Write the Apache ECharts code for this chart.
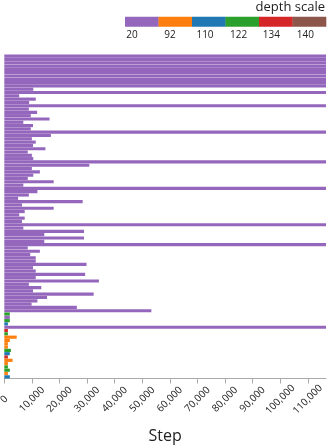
<!DOCTYPE html>
<html>
<head>
<meta charset="utf-8">
<script src="https://cdn.jsdelivr.net/npm/echarts@6/dist/echarts.min.js"></script>
<style>html,body{margin:0;padding:0;background:#fff}#c{width:327px;height:448px}</style>
</head>
<body>
<div id="c"></div>
<script>
// ---- data ----
const FULL = 116600;
const steps = [
  FULL, FULL, FULL, FULL, FULL, FULL, FULL, FULL, FULL, FULL,
  10500, FULL, 5400, 11400, 9000, FULL, 8900, 11900, 9600, 16400,
  6900, 10400, 9600, FULL, 16900, 10000, 11400, 10400, 14900, 8500,
  10000, 10500, FULL, 30800, 10000, 12900, 10500, 8500, 17900, 6900,
  FULL, 12000, 8900, 5000, 28400, 6400, 17900, 7400, 5400, 7400,
  6400, FULL, 6900, 28900, 14500, 28900, 14500, FULL, 8500, 12900,
  9400, 11400, 11400, 29800, 10400, 11400, 29300, 11400, 34300, 8900,
  13400, 10400, 32400, 15500, 12000, 9900, 26300, 53300, 2000, 2000,
  2000, 1300, FULL, 1300, 1300, 4500, 2000, 1300, 1300, 2400,
  2000, 1300, 3000, 1300, 1300, 2000, 1300, 2000
];
const depths = [
  20,20,20,20,20,20,20,20,20,20,
  20,20,20,20,20,20,20,20,20,20,
  20,20,20,20,20,20,20,20,20,20,
  20,20,20,20,20,20,20,20,20,20,
  20,20,20,20,20,20,20,20,20,20,
  20,20,20,20,20,20,20,20,20,20,
  20,20,20,20,20,20,20,20,20,20,
  20,20,20,20,20,20,20,20,122,20,
  122,110,20,134,122,92,92,92,92,122,
  110,134,92,92,122,122,92,110
];
const runs = steps.map((_, i) => 'run ' + (i + 1));
const depthLevels = [20, 92, 110, 122, 134, 140];
const depthColors = ['#9467bd', '#ff7f0e', '#1f77b4', '#2ca02c', '#d62728', '#8c564b'];
const xTicks = { min: 0, max: FULL, interval: 10000 };

// ---- chart ----
const FONT = '"Open Sans", "Noto Sans", sans-serif';
const chart = echarts.init(document.getElementById('c'), null, { renderer: 'canvas' });
const colorOf = d => depthColors[depthLevels.indexOf(d)];

const legendX0 = 125, legendW = 33.5, legendY = 16.7, legendH = 10;
const labelCenters = [132, 170, 205, 238.7, 271.3, 305.3];
const graphics = [];
depthLevels.forEach((d, i) => {
  graphics.push({
    type: 'rect', shape: { x: legendX0 + i * legendW, y: legendY, width: legendW + 0.3, height: legendH },
    style: { fill: depthColors[i] }, silent: true
  });
  graphics.push({
    type: 'text', x: labelCenters[i], y: 35,
    style: { text: String(d), font: '10px ' + FONT, fill: '#222', align: 'center', verticalAlign: 'middle' }
  });
});
graphics.push({
  type: 'text', x: 325, y: 1,
  style: { text: 'depth scale', font: '13px ' + FONT, fill: '#222', align: 'right', verticalAlign: 'top' }
});

chart.setOption({
  animation: false,
  backgroundColor: '#fff',
  grid: { left: 4.3, right: 1, top: 54.5, bottom: 69.5, containLabel: false, outerBoundsMode: 'none' },
  xAxis: {
    type: 'value', min: xTicks.min, max: xTicks.max, interval: xTicks.interval,
    name: 'Step', nameLocation: 'middle', nameGap: 50,
    nameTextStyle: { fontFamily: FONT, fontSize: 16, color: '#222' },
    axisLine: { show: true, lineStyle: { color: '#aaa', width: 1 } },
    axisTick: { show: true, length: 5, lineStyle: { color: '#aaa' } },
    splitLine: { show: false },
    axisLabel: {
      rotate: 45, margin: 21, align: 'center', verticalAlign: 'middle',
      fontFamily: FONT, fontSize: 10, color: '#222', showMaxLabel: false,
      formatter: v => (v % 10000 === 0 ? v.toLocaleString('en-US') : '')
    }
  },
  yAxis: {
    type: 'category', data: runs, inverse: true,
    axisLine: { show: false }, axisTick: { show: false }, axisLabel: { show: false },
    splitLine: { show: false }
  },
  series: [{
    type: 'bar',
    barCategoryGap: '4%',
    data: steps.map((v, i) => ({ value: v, itemStyle: { color: colorOf(depths[i]) } })),
    silent: true
  }],
  graphic: graphics
});
</script>
</body>
</html>
